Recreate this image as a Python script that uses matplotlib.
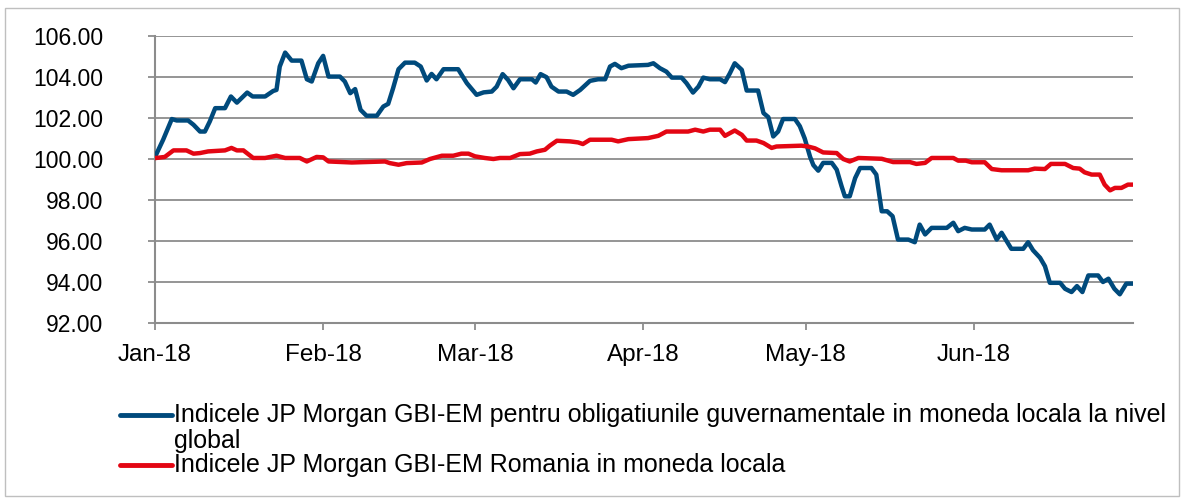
import matplotlib
matplotlib.use("Agg")
import matplotlib.pyplot as plt
from matplotlib.lines import Line2D
from matplotlib.patches import Rectangle
import numpy as np
import pandas as pd

plt.rcParams['font.family'] = ['Liberation Sans', 'DejaVu Sans']

# ---- data (days since 2018-01-01, index level) ----
global_days = [0.2, 1.5, 3.1, 4.0, 6.1, 7.1, 8.3, 9.2, 10.1, 11.1, 12.9, 14.0, 15.1, 17.0, 18.0,
               20.3, 21.8, 22.4, 23.0, 24.0, 25.2, 27.0, 28.0, 28.9, 30.1, 31.0, 32.0, 34.1, 35.0,
               36.0, 36.9, 37.9, 39.0, 40.9, 42.1, 43.0, 43.9, 44.9, 46.1, 47.9, 49.0, 50.1, 51.0,
               51.9, 53.2, 55.9, 57.5, 59.3, 60.6, 62.1, 63.0, 64.1, 65.1, 66.1, 67.3, 69.5, 70.2,
               71.1, 72.2, 73.1, 74.4, 75.9, 77.1, 78.4, 80.2, 81.7, 83.0, 83.9, 84.8, 86.0, 87.3,
               90.9, 91.9, 93.1, 94.3, 95.3, 97.1, 98.0, 99.2, 100.2, 101.1, 102.3, 104.2, 105.1,
               106.0, 106.9, 108.2, 109.1, 111.2, 112.2, 113.1, 114.0, 114.9, 115.8, 118.0, 118.9,
               119.8, 120.8, 121.4, 122.3, 123.2, 124.8, 125.7, 126.6, 127.2, 128.1, 129.1, 130.0,
               132.1, 133.0, 134.0, 135.0, 136.0, 137.0, 138.9, 140.1, 141.0, 142.0, 143.2, 146.0,
               147.2, 148.1, 149.3, 150.6, 153.0, 153.9, 155.2, 156.1, 157.9, 160.1, 161.0, 161.9,
               163.2, 164.1, 165.0, 166.9, 167.8, 169.0, 170.0, 171.0, 172.1, 173.9, 174.8, 175.8,
               176.9, 177.9, 179.1, 180.3]
global_vals = [100.21, 100.94, 101.95, 101.88, 101.88, 101.67, 101.34, 101.34, 101.83, 102.48,
               102.48, 103.05, 102.75, 103.24, 103.05, 103.05, 103.32, 103.37, 104.51, 105.19,
               104.80, 104.80, 103.89, 103.78, 104.67, 105.03, 104.02, 104.02, 103.78, 103.21,
               103.41, 102.40, 102.11, 102.11, 102.56, 102.69, 103.45, 104.38, 104.70, 104.70,
               104.51, 103.83, 104.15, 103.89, 104.38, 104.38, 103.70, 103.13, 103.25, 103.29,
               103.53, 104.14, 103.86, 103.45, 103.89, 103.89, 103.73, 104.14, 103.99, 103.53,
               103.29, 103.29, 103.13, 103.37, 103.81, 103.89, 103.89, 104.51, 104.64, 104.43,
               104.55, 104.59, 104.67, 104.43, 104.26, 103.97, 103.97, 103.70, 103.24, 103.53,
               103.97, 103.89, 103.89, 103.75, 104.18, 104.67, 104.35, 103.34, 103.34, 102.24,
               102.04, 101.10, 101.34, 101.95, 101.95, 101.60, 101.00, 100.10, 99.70, 99.43,
               99.81, 99.81, 99.48, 98.67, 98.18, 98.18, 99.07, 99.56, 99.56, 99.24, 97.45,
               97.45, 97.21, 96.07, 96.07, 95.94, 96.80, 96.32, 96.64, 96.64, 96.89, 96.48,
               96.64, 96.56, 96.56, 96.80, 96.07, 96.40, 95.62, 95.62, 95.94, 95.55, 95.18,
               94.77, 93.96, 93.96, 93.67, 93.51, 93.80, 93.51, 94.32, 94.32, 94.00, 94.16,
               93.67, 93.40, 93.92, 93.92]

romania_days = [0.2, 1.8, 3.4, 5.8, 7.1, 8.3, 9.8, 12.9, 14.1, 15.1, 16.3, 18.1, 20.3, 22.4, 24.0,
                26.7, 28.0, 29.8, 31.0, 32.0, 36.3, 42.4, 43.3, 44.9, 46.4, 49.2, 50.7, 52.9, 55.0,
                56.5, 57.8, 59.0, 60.8, 62.4, 63.6, 65.5, 67.3, 69.1, 70.4, 71.9, 72.8, 74.1, 76.5,
                78.0, 78.9, 80.2, 84.2, 85.4, 87.3, 90.9, 92.8, 94.3, 98.3, 99.6, 101.1, 102.3,
                104.2, 105.1, 106.9, 108.2, 109.1, 110.9, 112.2, 113.7, 114.6, 119.2, 120.4, 121.7,
                123.2, 125.7, 126.9, 128.1, 129.7, 134.0, 136.1, 139.2, 140.4, 142.0, 143.2, 147.2,
                148.1, 149.5, 150.6, 153.0, 154.3, 156.1, 161.0, 162.2, 164.1, 165.2, 167.8, 169.3,
                170.5, 171.4, 172.7, 174.2, 175.1, 176.1, 177.0, 178.2, 179.4, 180.3]
romania_vals = [100.05, 100.10, 100.42, 100.42, 100.26, 100.29, 100.37, 100.42, 100.54, 100.42,
                100.42, 100.05, 100.05, 100.16, 100.05, 100.05, 99.88, 100.10, 100.08, 99.88,
                99.83, 99.88, 99.80, 99.72, 99.80, 99.83, 100.00, 100.16, 100.16, 100.26, 100.26,
                100.13, 100.05, 100.00, 100.05, 100.05, 100.24, 100.26, 100.37, 100.45, 100.65,
                100.89, 100.86, 100.81, 100.73, 100.94, 100.94, 100.86, 100.97, 101.02, 101.13,
                101.34, 101.34, 101.43, 101.34, 101.43, 101.43, 101.13, 101.39, 101.18, 100.90,
                100.90, 100.78, 100.54, 100.61, 100.65, 100.61, 100.52, 100.32, 100.29, 100.00,
                99.88, 100.05, 100.01, 99.85, 99.85, 99.76, 99.81, 100.05, 100.05, 99.92, 99.92,
                99.84, 99.84, 99.51, 99.45, 99.45, 99.53, 99.51, 99.76, 99.76, 99.56, 99.53, 99.35,
                99.24, 99.24, 98.75, 98.47, 98.59, 98.59, 98.75, 98.75]

month_ticks = ['2018-01-01', '2018-02-01', '2018-03-01', '2018-04-01', '2018-05-01', '2018-06-01']
month_labels = ['Jan-18', 'Feb-18', 'Mar-18', 'Apr-18', 'May-18', 'Jun-18']
y_ticks = [92, 94, 96, 98, 100, 102, 104, 106]

label_global = "Indicele JP Morgan GBI-EM pentru obligatiunile guvernamentale in moneda locala la nivel\nglobal"
label_romania = "Indicele JP Morgan GBI-EM Romania in moneda locala"

BLUE = '#004A7C'
RED = '#E30613'
GRID = '#8C8C8C'

start = pd.Timestamp('2018-01-01')
g_dates = start + pd.to_timedelta(global_days, unit='D')
r_dates = start + pd.to_timedelta(romania_days, unit='D')

fig = plt.figure(figsize=(11.84, 4.99), dpi=100)
ax = fig.add_axes([155/1184, 1 - 323/499, (1133-155)/1184, (323-36)/499])

ax.plot(g_dates, global_vals, color=BLUE, lw=3.2, solid_joinstyle='round', zorder=3)
ax.plot(r_dates, romania_vals, color=RED, lw=3.2, solid_joinstyle='round', zorder=3)

ax.set_ylim(92, 106)
ax.set_yticks(y_ticks)
ax.set_yticklabels([f"{v:.2f}" for v in y_ticks])
ax.set_xlim(start, pd.Timestamp('2018-06-30 08:00'))
ax.set_xticks(pd.to_datetime(month_ticks))
ax.set_xticklabels(month_labels)

ax.grid(axis='y', color=GRID, lw=1.3)
ax.set_axisbelow(True)
for s in ['top', 'right']:
    ax.spines[s].set_visible(False)
for s in ['left', 'bottom']:
    ax.spines[s].set_color(GRID)
    ax.spines[s].set_linewidth(1.5)
ax.tick_params(axis='both', colors=GRID, length=5, width=1.3, direction='out')
ax.tick_params(axis='y', labelcolor='black', labelsize=16.5, pad=32.5)
ax.tick_params(axis='x', labelcolor='black', labelsize=17.5, pad=10)

# legend (manual, entries in figure pixel space)
def px(x, y):
    return x / 1184, 1 - y / 499

for (yline, col, lab) in [(415, BLUE, label_global), (465, RED, label_romania)]:
    x0, y0 = px(120, yline)
    x1, _ = px(172, yline)
    fig.add_artist(Line2D([x0, x1], [y0, y0], color=col, lw=3.5, solid_capstyle='round'))
    tx, ty = px(174, yline - 12)
    fig.text(tx, ty, lab, fontsize=18, va='top', ha='left', linespacing=1.08)

# outer frame
fig.add_artist(Rectangle(px(5, 496), (1179-5)/1184, (496-8)/499, transform=fig.transFigure,
                         fill=False, edgecolor='#BFBFBF', lw=1.0))

fig.savefig('out.png', dpi=100)
